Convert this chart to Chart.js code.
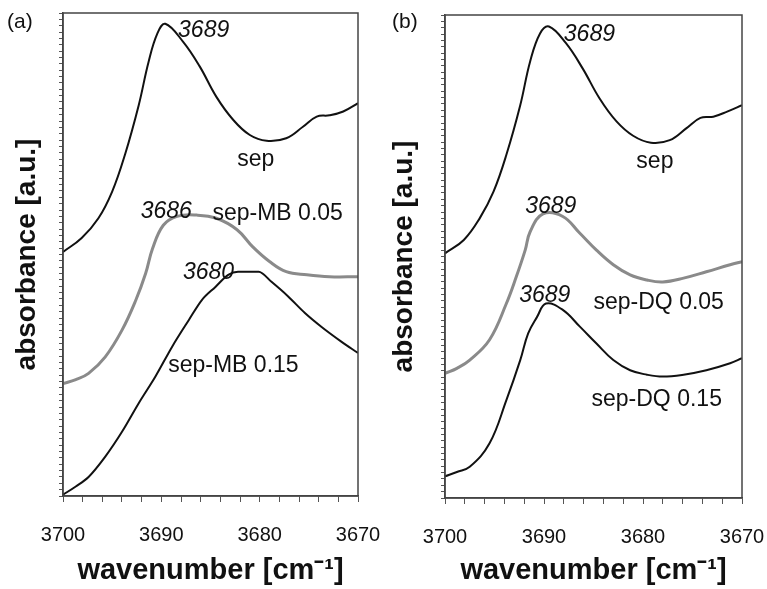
<!DOCTYPE html>
<html>
<head>
<meta charset="utf-8">
<script src="https://cdn.jsdelivr.net/npm/chart.js@4"></script>
<style>
  html, body { margin: 0; padding: 0; background: #fff; }
  .panel { position: absolute; top: 0; height: 589px; }
  #panelA { left: 0; width: 380px; }
  #panelB { left: 380px; width: 387px; }
</style>
</head>
<body>
<div class="panel" id="panelA"><canvas id="chartA"></canvas></div>
<div class="panel" id="panelB"><canvas id="chartB"></canvas></div>
<script>
// x axis: wavenumber, reversed from 3700 to 3670
const xMin = 3670;
const xMax = 3700;
const xLabelTicks = [3700, 3690, 3680, 3670];

// panel (a): sep, sep-MB 0.05, sep-MB 0.15
const sepA_wn  = [3700.0, 3698.1, 3696.4, 3695.0, 3693.7, 3692.3, 3691.3, 3690.4, 3689.6, 3687.8, 3686.1, 3684.4, 3682.7, 3681.0, 3679.3, 3677.3, 3675.6, 3674.2, 3672.9, 3671.5, 3670.0];
const sepA_abs = [38.4, 40.6, 43.7, 47.9, 53.7, 61.5, 68.3, 72.8, 74.3, 71.5, 67.6, 62.8, 59.2, 56.8, 55.9, 56.3, 58.1, 59.7, 59.9, 60.5, 61.8];

const mb05_wn  = [3700.0, 3698.7, 3697.4, 3695.7, 3694.0, 3692.6, 3691.6, 3690.9, 3689.8, 3688.4, 3686.4, 3684.4, 3682.3, 3680.7, 3679.0, 3677.3, 3675.2, 3672.9, 3670.0];
const mb05_abs = [17.7, 18.3, 19.3, 21.9, 26.1, 30.8, 35.0, 38.9, 42.6, 44.0, 44.2, 43.7, 41.9, 39.2, 36.9, 35.3, 34.8, 34.5, 34.5];

const mb15_wn  = [3700.0, 3698.7, 3697.4, 3695.7, 3694.0, 3692.3, 3690.6, 3688.9, 3687.2, 3685.9, 3684.5, 3683.2, 3682.2, 3680.1, 3678.8, 3677.1, 3675.4, 3673.7, 3671.7, 3670.0];
const mb15_abs = [0.2, 1.5, 3.0, 6.2, 10.1, 14.6, 18.8, 23.5, 27.7, 30.8, 32.9, 34.8, 35.3, 35.3, 33.7, 31.4, 28.8, 26.6, 24.3, 22.5];

// panel (b): sep, sep-DQ 0.05, sep-DQ 0.15
const sepB_wn  = [3700.0, 3698.1, 3696.5, 3695.1, 3693.8, 3692.4, 3691.4, 3690.4, 3689.5, 3687.8, 3686.1, 3684.4, 3682.7, 3681.0, 3679.2, 3677.3, 3675.6, 3674.2, 3672.9, 3671.5, 3670.0];
const sepB_abs = [38.5, 40.6, 44.0, 48.2, 54.0, 61.8, 68.7, 73.1, 74.2, 71.6, 67.6, 62.9, 59.3, 57.0, 55.9, 56.3, 58.2, 59.8, 60.0, 60.8, 61.8];

const dq05_wn  = [3700.0, 3698.8, 3697.5, 3695.5, 3693.8, 3692.8, 3691.9, 3691.4, 3690.1, 3688.1, 3686.4, 3684.7, 3683.0, 3681.3, 3679.6, 3678.0, 3675.9, 3673.6, 3671.2, 3670.0];
const dq05_abs = [19.6, 20.4, 21.7, 24.9, 30.6, 34.8, 39.0, 41.9, 44.7, 44.3, 41.7, 39.0, 36.7, 35.1, 34.3, 34.0, 34.6, 35.6, 36.7, 37.2];

const dq15_wn  = [3700.0, 3698.8, 3697.5, 3695.5, 3693.8, 3692.4, 3691.6, 3690.7, 3689.8, 3688.1, 3686.4, 3684.7, 3683.0, 3681.3, 3679.6, 3678.0, 3675.9, 3673.6, 3671.2, 3670.0];
const dq15_abs = [3.4, 4.1, 4.9, 8.6, 15.4, 21.7, 25.9, 28.5, 30.6, 29.6, 27.0, 24.3, 21.7, 20.1, 19.4, 19.1, 19.4, 20.1, 21.2, 22.0];

// curve labels: [text, wavenumber, absorbance, align, italic]
const notesA = [
    ['3689', 3688.3, 73.2, 'left', true],
    ['sep', 3680.4, 52.9, 'center', false],
    ['3686', 3692.1, 44.7, 'left', true],
    ['sep-MB 0.05', 3684.8, 44.5, 'left', false],
    ['3680', 3687.8, 35.1, 'left', true],
    ['sep-MB 0.15', 3689.3, 20.5, 'left', false]
];
const notesB = [
    ['3689', 3688.0, 72.9, 'left', true],
    ['sep', 3678.8, 52.9, 'center', false],
    ['3689', 3691.9, 45.8, 'left', true],
    ['sep-DQ 0.05', 3685.0, 30.7, 'left', false],
    ['3689', 3692.5, 31.8, 'left', true],
    ['sep-DQ 0.15', 3685.2, 15.4, 'left', false]
];

const FONT = "'Liberation Sans', Arial, sans-serif";

function toPoints(wn, abs) {
    return wn.map((w, i) => ({ x: w, y: abs[i] }));
}

function lineSet(wn, abs, color, width, monotone) {
    return {
        data: toPoints(wn, abs),
        borderColor: color,
        borderWidth: width,
        pointRadius: 0,
        fill: false,
        tension: 0.4,
        cubicInterpolationMode: monotone ? 'monotone' : 'default'
    };
}

// frame, curve labels and panel tag
const decorPlugin = {
    id: 'decor',
    afterDraw(chart, args, opts) {
        const ctx = chart.ctx;
        const area = chart.chartArea;
        const xs = chart.scales.x;
        const ys = chart.scales.y;
        ctx.save();
        ctx.strokeStyle = '#444';
        ctx.lineWidth = 1.5;
        ctx.strokeRect(area.left, area.top, area.right - area.left, area.bottom - area.top);

        ctx.fillStyle = '#111';
        ctx.textBaseline = 'middle';
        opts.notes.forEach(n => {
            ctx.font = (n[4] ? 'italic ' : '') + '23px ' + FONT;
            ctx.textAlign = n[3];
            ctx.fillText(n[0], xs.getPixelForValue(n[1]), ys.getPixelForValue(n[2]));
        });

        ctx.font = '21px ' + FONT;
        ctx.textAlign = 'left';
        ctx.fillText(opts.tag, opts.tagX, 22);
        ctx.restore();
    }
};

function makePanel(canvasId, datasets, notes, tag, geom) {
    new Chart(document.getElementById(canvasId), {
        type: 'line',
        data: { datasets: datasets },
        plugins: [decorPlugin],
        options: {
            responsive: true,
            maintainAspectRatio: false,
            animation: false,
            layout: { padding: { top: geom.top, right: geom.right, left: 0, bottom: 0 } },
            plugins: {
                legend: { display: false },
                tooltip: { enabled: false },
                decor: { notes: notes, tag: tag, tagX: geom.tagX }
            },
            scales: {
                x: {
                    type: 'linear',
                    reverse: true,
                    min: xMin,
                    max: xMax,
                    afterFit: s => {
                        s.height = geom.xHeight;
                        s.paddingLeft = 0;
                        s.paddingRight = 0;
                    },
                    border: { display: true, color: '#444', width: 1.5 },
                    grid: { drawOnChartArea: false, drawTicks: true, tickLength: 6, color: '#555' },
                    ticks: {
                        stepSize: 2,
                        autoSkip: false,
                        maxRotation: 0,
                        padding: 21,
                        color: '#111',
                        font: { family: FONT, size: 20 },
                        callback: v => xLabelTicks.includes(v) ? String(v) : ''
                    },
                    title: {
                        display: true,
                        text: 'wavenumber [cm\u207B\u00B9]',
                        color: '#111',
                        font: { family: FONT, size: 29, weight: 'bold' },
                        padding: { top: 0, bottom: 1 }
                    }
                },
                y: {
                    min: 0,
                    max: 76,
                    afterFit: s => {
                        s.width = geom.yWidth;
                        s.paddingTop = 0;
                        s.paddingBottom = 0;
                    },
                    border: { display: true, color: '#444', width: 1.5 },
                    grid: { drawOnChartArea: false, drawTicks: true, tickLength: 4, color: '#555' },
                    ticks: { stepSize: 1, autoSkip: false, display: false },
                    title: {
                        display: true,
                        text: 'absorbance [a.u.]',
                        color: '#111',
                        font: { family: FONT, size: 28, weight: 'bold' },
                        padding: { top: geom.yTitlePad, bottom: 0 }
                    }
                }
            }
        }
    });
}

document.addEventListener('DOMContentLoaded', () => {
    makePanel('chartA', [
        lineSet(sepA_wn, sepA_abs, '#111', 2, false),
        lineSet(mb05_wn, mb05_abs, '#8a8a8a', 3, false),
        lineSet(mb15_wn, mb15_abs, '#111', 2, true)
    ], notesA, '(a)', { top: 13, right: 22, xHeight: 93, yWidth: 63, yTitlePad: 10, tagX: 7 });

    makePanel('chartB', [
        lineSet(sepB_wn, sepB_abs, '#111', 2, false),
        lineSet(dq05_wn, dq05_abs, '#8a8a8a', 3, false),
        lineSet(dq15_wn, dq15_abs, '#111', 2, false)
    ], notesB, '(b)', { top: 15, right: 25, xHeight: 91, yWidth: 65, yTitlePad: 7, tagX: 12 });
});
</script>
</body>
</html>
